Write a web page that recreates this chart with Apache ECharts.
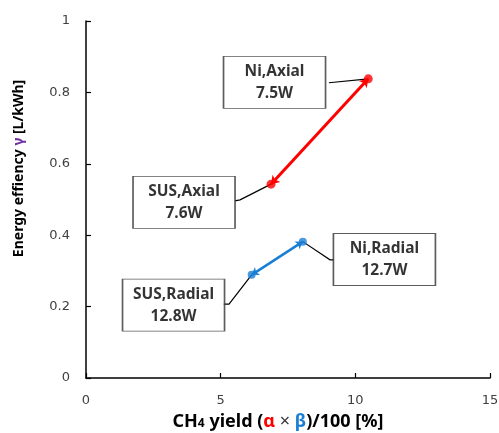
<!DOCTYPE html>
<html><head><meta charset="utf-8">
<script src="https://cdn.jsdelivr.net/npm/echarts@6/dist/echarts.min.js"></script>
<style>html,body{margin:0;padding:0;background:#fff}#c{width:499px;height:433px}</style>
</head><body><div id="c"></div>
<script>
// Data
const axialX = [6.87, 10.48];
const axialY = [0.543, 0.838];
const radialX = [6.15, 8.05];
const radialY = [0.289, 0.382];
const xTicks = [0, 5, 10, 15];
const yTicks = [0, 0.2, 0.4, 0.6, 0.8, 1];
// Annotation texts and anchor points (data coordinates)
const annoText = ['Ni,Axial\n7.5W', 'SUS,Axial\n7.6W', 'SUS,Radial\n12.8W', 'Ni,Radial\n12.7W'];
const annoX = [7.00, 3.64, 3.25, 11.08];
const annoY = [0.828, 0.492, 0.204, 0.332];
const leaders = [
  [[9.02, 0.827], [10.48, 0.838]],
  [[5.53, 0.496], [5.72, 0.499], [6.87, 0.543]],
  [[5.09, 0.207], [5.31, 0.207], [6.15, 0.289]],
  [[8.05, 0.382], [9.06, 0.331], [9.21, 0.331]]
];

const RED = '#FF0000', BLUE = '#1A7FD4';
const font = '"Noto Sans", "Open Sans", sans-serif';
const chart = echarts.init(document.getElementById('c'), null, {renderer: 'canvas'});
const tickLabel = {color: '#404040', fontSize: 13, fontFamily: '"DejaVu Sans", sans-serif'};
chart.setOption({
  animation: false,
  grid: {left: 86, right: 9, top: 21, bottom: 55, outerBoundsMode: 'none', containLabel: false},
  xAxis: {
    type: 'value', min: 0, max: 15, interval: 5,
    axisLine: {lineStyle: {color: '#000', width: 1.5}},
    axisTick: {inside: true, length: 5, lineStyle: {color: '#000', width: 1.2}},
    splitLine: {show: false},
    axisLabel: Object.assign({margin: 16, formatter: v => xTicks.includes(v) ? String(v) : ''}, tickLabel),
    name: '{b|CH}{s|4}{b| yield (}{r|α}{x| × }{u|β}{b|)/100 [%]}',
    nameLocation: 'middle', nameGap: 35,
    nameTextStyle: {padding: [0, 20, 0, 0], rich: {
      b: {fontSize: 18, fontWeight: 'bold', color: '#000', fontFamily: font},
      x: {fontSize: 18, fontWeight: 'normal', color: '#333', fontFamily: font},
      s: {fontSize: 12, fontWeight: 'bold', color: '#000', fontFamily: font, padding: [3, 0, 0, 0]},
      r: {fontSize: 18, fontWeight: 'bold', color: RED, fontFamily: font},
      u: {fontSize: 18, fontWeight: 'bold', color: BLUE, fontFamily: font}
    }}
  },
  yAxis: {
    type: 'value', min: 0, max: 1, interval: 0.2,
    axisLine: {show: true, lineStyle: {color: '#000', width: 1.5}},
    axisTick: {show: true, inside: true, length: 5, lineStyle: {color: '#000', width: 1.2}},
    splitLine: {show: false},
    axisLabel: Object.assign({margin: 16, formatter: v => { const t = yTicks.find(k => Math.abs(k - v) < 1e-9); return t === undefined ? '' : String(+t.toFixed(1)); }}, tickLabel),
    name: '{b|Energy effiency }{p|γ}{b| [L/kWh]}',
    nameLocation: 'middle', nameGap: 60, nameRotate: 90,
    nameTextStyle: {padding: [0, 0, 0, 62], rich: {
      b: {fontSize: 14, fontWeight: 'bold', color: '#000', fontFamily: font},
      p: {fontSize: 14, fontWeight: 'bold', color: '#7030A0', fontFamily: font}
    }}
  },
  series: [
    {type: 'lines', coordinateSystem: 'cartesian2d', polyline: true, silent: true, z: 2,
     lineStyle: {color: '#000', width: 1.2, opacity: 1},
     data: leaders.map(c => ({coords: c}))},
    {type: 'lines', coordinateSystem: 'cartesian2d', silent: true, z: 3,
     symbol: ['arrow', 'arrow'], symbolSize: 8,
     lineStyle: {color: RED, width: 3, opacity: 1},
     data: [{coords: [[axialX[0], axialY[0]], [axialX[1], axialY[1]]]}]},
    {type: 'lines', coordinateSystem: 'cartesian2d', silent: true, z: 3,
     symbol: ['arrow', 'arrow'], symbolSize: 7,
     lineStyle: {color: BLUE, width: 2.5, opacity: 1},
     data: [{coords: [[radialX[0], radialY[0]], [radialX[1], radialY[1]]]}]},
    {type: 'scatter', z: 4, symbol: 'circle', symbolSize: 9, itemStyle: {color: RED},
     data: axialX.map((x, i) => [x, axialY[i]])},
    {type: 'scatter', z: 4, symbol: 'circle', symbolSize: 8, itemStyle: {color: BLUE},
     data: radialX.map((x, i) => [x, radialY[i]])},
    {type: 'scatter', z: 5, symbol: 'rect', symbolSize: [102, 52],
     itemStyle: {color: '#fff', borderColor: '#333', borderWidth: 1.2},
     label: {show: true, position: 'inside', formatter: p => annoText[p.dataIndex],
       color: '#000', fontSize: 15.5, fontWeight: 'bold', fontFamily: font, lineHeight: 22, align: 'center'},
     data: annoX.map((x, i) => [x, annoY[i]])}
  ]
});
</script></body></html>
